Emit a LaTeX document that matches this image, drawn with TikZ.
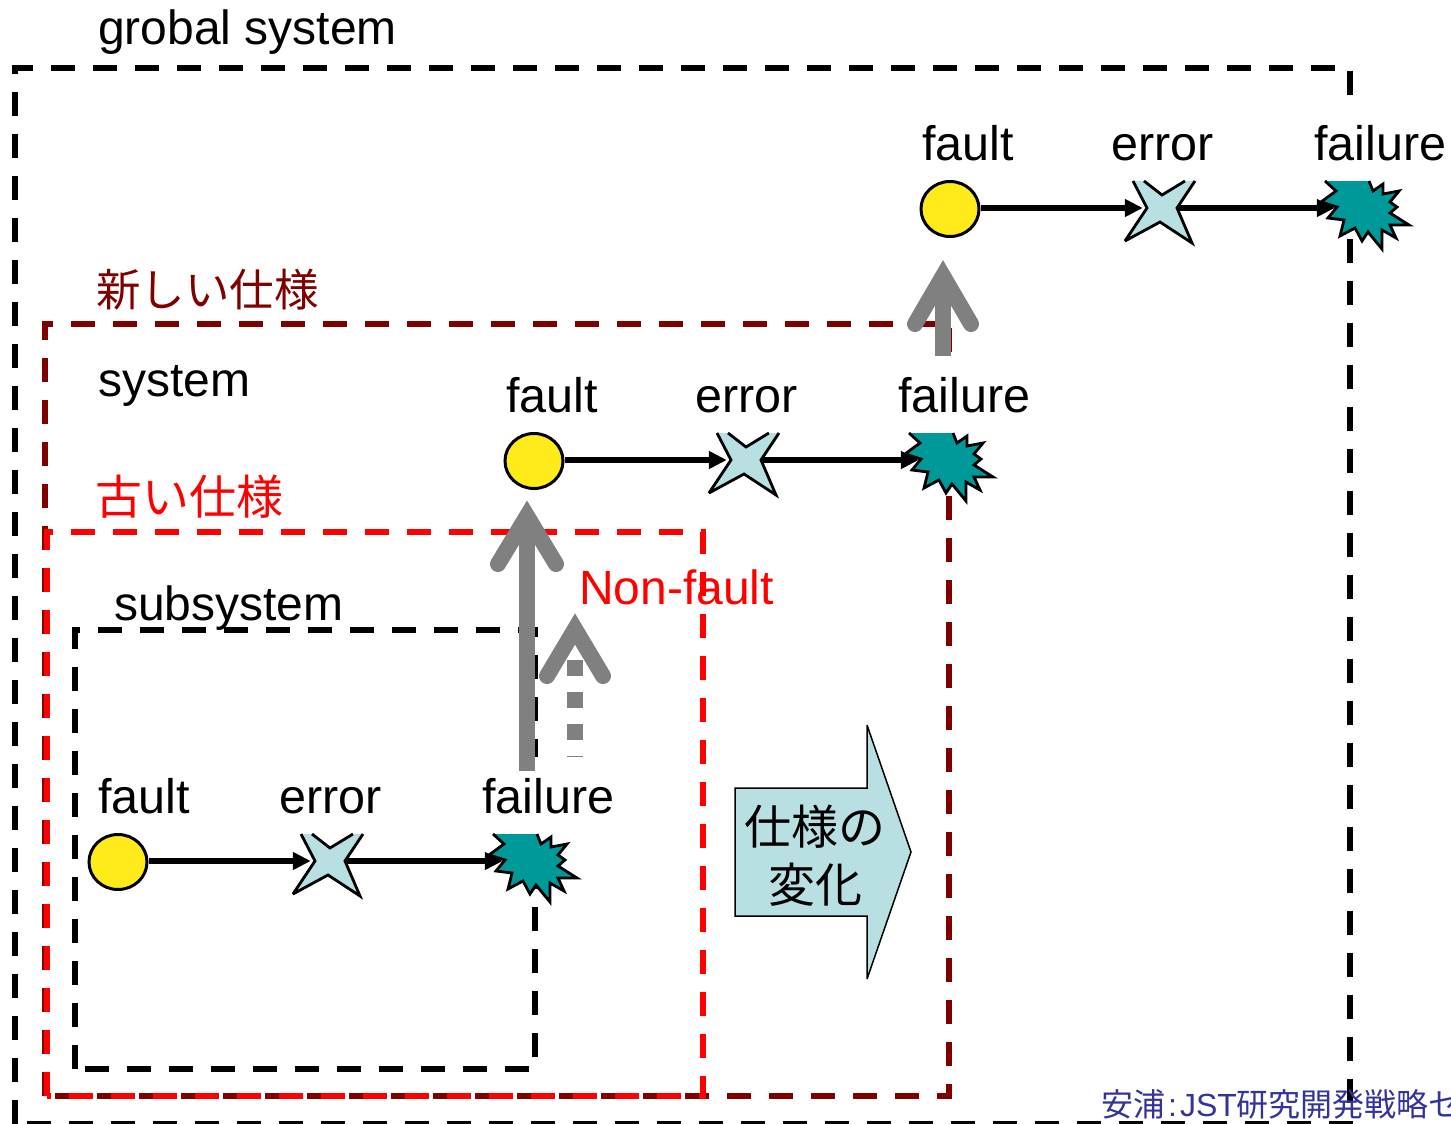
\documentclass[tikz,border=0pt]{standalone}
\usepackage{fontspec}
\setmainfont{Liberation Sans}
\newfontfamily\cjk{Noto Sans CJK JP}
\usetikzlibrary{arrows.meta,shapes.geometric}
\definecolor{dkred}{RGB}{128,0,0}
\definecolor{teal1}{RGB}{0,153,153}
\definecolor{pale}{RGB}{184,224,227}
\definecolor{yel}{RGB}{255,235,25}
\definecolor{gry}{RGB}{128,128,128}
\definecolor{navy1}{RGB}{51,51,153}
\tikzset{
  x=1pt,y=-1pt,
  frameline/.style={line width=6pt,dash pattern=on 24pt off 18pt},
  lab/.style={font=\fontsize{48}{52}\selectfont,anchor=base west,inner sep=0pt},
  chainlab/.style={lab,font=\fontsize{48.5}{52}\selectfont,fill=white,text height=56pt,text depth=21pt,inner xsep=5pt},
  cjklab/.style={font=\cjk\fontsize{44.5}{50}\selectfont,anchor=base west,inner sep=0pt},
  blocklab/.style={font=\cjk\fontsize{47}{50}\selectfont,anchor=base,inner sep=0pt},
  link/.style={line width=5.5pt,-{Triangle[length=18pt,width=17pt]}},
  faultdot/.style={ellipse,draw=black,fill=yel,line width=3pt,minimum width=58pt,minimum height=55pt,inner sep=0pt},
  anchorbox/.style={inner sep=0pt,minimum height=4pt},
  outlined/.style={draw=black,line width=2.8pt,miter limit=4},
  bigarrow/.style={gry,line width=16pt,line cap=round,miter limit=10},
  shaft/.style={gry,line width=16pt},
}
\newcommand{\failchain}[4]{%
\begin{scope}[shift={(#2,#3)}]
  \node[chainlab] (lf#1) at (917+#4,160) {fault};
  \node[chainlab] (le#1) at (1106,160) {error};
  \node[chainlab] (lb#1) at (1309,160) {failure};
  \node[faultdot] (f#1) at (950,209) {};
  \fill[pale] (1133,181) -- (1147,208) -- (1125,241) -- (1160,222) -- (1192,243) -- (1177,208) -- (1195,181) -- (1185,181) -- (1162,195) -- (1144,181) -- cycle;
  \draw[outlined] (1133,181) -- (1147,208) -- (1125,241) -- (1160,222) -- (1192,243) -- (1177,208) -- (1195,181);
  \draw[outlined] (1144,181) -- (1162,195) -- (1185,181);
  \draw[outlined,fill=teal1] (1325,181) -- (1336,191) -- (1321,202) -- (1337,207) -- (1328,218) -- (1344,220) -- (1340,236) -- (1355,228) -- (1362,241) -- (1368,232) -- (1382,249) -- (1382,230) -- (1396,238) -- (1390,225) -- (1409,225) -- (1390,213) -- (1397,207) -- (1390,202) -- (1399,191) -- (1383,194) -- (1383,184) -- (1373,191) -- (1369,181);
  \node[anchorbox,minimum width=34pt] (e#1) at (1160,208) {};
  \node[anchorbox,minimum width=4pt] (b#1) at (1337,208) {};
  \draw[link] (f#1.east |- e#1.west) -- (e#1.west);
  \draw[link] (e#1.east) -- (b#1.west);
\end{scope}}
\begin{document}
\begin{tikzpicture}
\clip (0,0) rectangle (1451,1124);
\fill[white] (0,0) rectangle (1451,1124);
% frames: each runs clockwise from its bottom left corner
\draw[frameline,black] (14.7,1124) -- (14.7,68) -- (1350,68) -- (1350,1124) -- (14.7,1124);
\draw[frameline,dkred] (45,1096) -- (45,324) -- (949,324) -- (949,1096) -- (45,1096);
\draw[frameline,red] (46.7,1096) -- (46.7,532) -- (703,532) -- (703,1096) -- (46.7,1096);
\draw[frameline,black] (74.5,1068.5) -- (74.5,630) -- (535,630) -- (535,1068.5) -- (74.5,1068.5);
% chains
\failchain{A}{0}{0}{0}
\failchain{B}{-416}{252}{0}
\failchain{C}{-832}{653}{8}
% grey arrows
\coordinate (g1s) at (527,771); \coordinate (g1t) at (527,516);
\coordinate (g2s) at (575,757); \coordinate (g2t) at (575,660);
\coordinate (g3s) at (943,356); \coordinate (g3t) at (943,276);
\draw[shaft] (g1s) -- (g1t);
\draw[bigarrow] ([xshift=-29pt,yshift=-48pt]g1t) -- (g1t) -- ([xshift=29pt,yshift=-48pt]g1t);
\draw[shaft,dash pattern=on 16pt off 16pt,dash phase=15pt] (g2s) -- (g2t);
\coordinate (g2h) at (575,629);
\draw[bigarrow] ([xshift=-28pt,yshift=-47pt]g2h) -- (g2h) -- ([xshift=28pt,yshift=-47pt]g2h);
\draw[shaft] (g3s) -- (g3t);
\draw[bigarrow] ([xshift=-28pt,yshift=-48pt]g3t) -- (g3t) -- ([xshift=28pt,yshift=-48pt]g3t);
% texts
\node[lab] (t1) at (98,45) {grobal system};
\node[lab] (t2) at (98,396) {system};
\node[lab] (t3) at (114,620) {subsystem};
\node[lab,red] (t4) at (579,604) {Non-fault};
\node[cjklab,dkred] (t5) at (96,306) {新しい仕様};
\node[cjklab,red,font=\cjk\fontsize{47}{50}\selectfont] (t6) at (95,514) {古い仕様};
% block arrow
\draw[fill=pale,line width=1.5pt,draw=black,miter limit=3] (735,788) -- (867,788) -- (867,725) -- (911,852) -- (867,979) -- (867,916) -- (735,916) -- cycle;
\node[blocklab] (t7) at (815,844) {仕様の};
\node[blocklab] (t8) at (815,902) {変化};
\node[anchor=base west,inner sep=0pt,navy1,font=\fontsize{32}{34}\selectfont] (t9) at (1101,1116) {{\cjk 安浦}\hspace{3pt}:\hspace{3pt}JST{\cjk 研究開発戦略セ}};
\end{tikzpicture}
\end{document}
